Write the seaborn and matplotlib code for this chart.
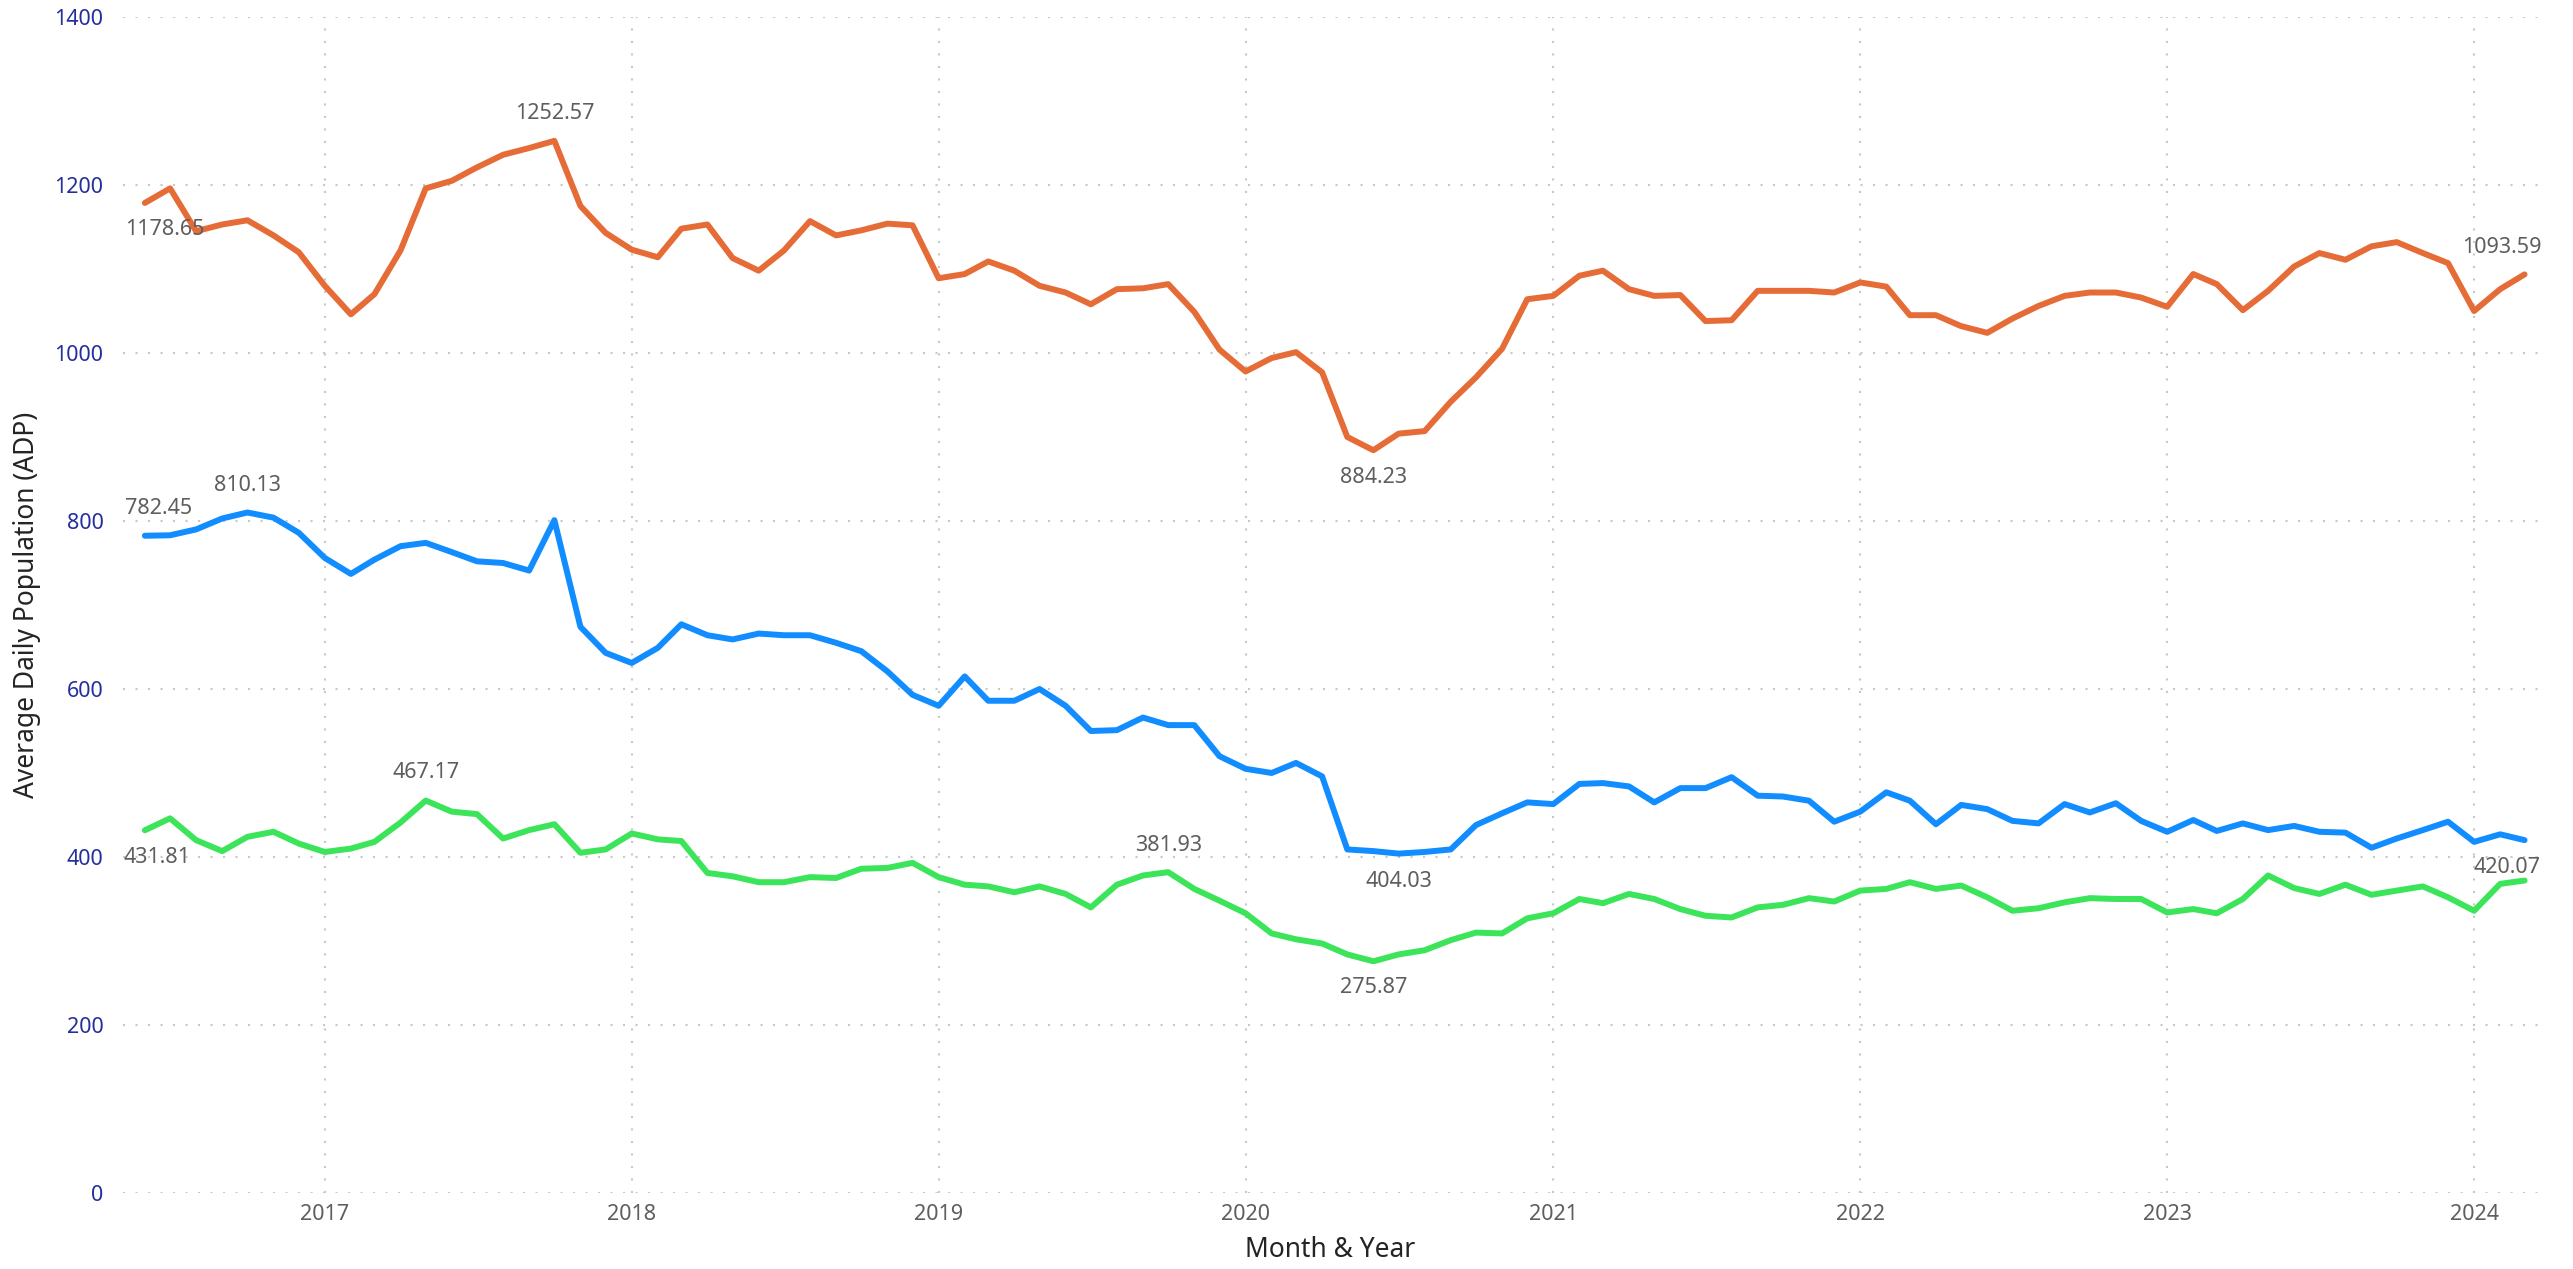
import pandas as pd
import matplotlib
matplotlib.use('Agg')
import matplotlib.pyplot as plt
import seaborn as sns

# monthly average daily population, Jun 2016 - Mar 2024
months = pd.date_range('2016-06-01', '2024-03-01', freq='MS')

orange_adp = [1178.65, 1196, 1145, 1153, 1158, 1140, 1120, 1080, 1046, 1070, 1122, 1196, 1205, 1221, 1236, 1244,
              1252.57, 1175, 1143, 1123, 1114, 1148, 1153, 1113, 1098, 1122, 1157, 1140, 1146, 1154, 1152, 1089,
              1094, 1109, 1098, 1080, 1072, 1058, 1076, 1077, 1082, 1049, 1004, 978, 994, 1001, 977, 900,
              884.23, 904, 907, 942, 971, 1005, 1064, 1068, 1092, 1098, 1076, 1068, 1069, 1038, 1039, 1074,
              1074, 1074, 1072, 1084, 1079, 1045, 1045, 1032, 1024, 1041, 1056, 1068, 1072, 1072, 1066, 1055,
              1094, 1082, 1051, 1074, 1103, 1119, 1111, 1127, 1132, 1119, 1107, 1050, 1076, 1093.59]

blue_adp = [782.45, 783, 790, 803, 810.13, 804, 786, 756, 737, 754, 770, 774, 763, 752, 750, 741,
            801, 674, 643, 631, 649, 677, 664, 659, 666, 664, 664, 655, 645, 621, 593, 580,
            615, 586, 586, 600, 580, 550, 551, 566, 557, 557, 520, 505, 500, 512, 496, 409,
            407, 404.03, 406, 409, 438, 452, 465, 463, 487, 488, 484, 465, 482, 482, 495, 473,
            472, 467, 442, 454, 477, 467, 439, 462, 457, 443, 440, 463, 453, 464, 443, 430,
            444, 431, 440, 432, 437, 430, 429, 411, 422, 432, 442, 418, 427, 420.07]

green_adp = [431.81, 446, 420, 407, 424, 430, 416, 406, 410, 418, 441, 467.17, 454, 451, 422, 432,
             439, 405, 409, 428, 421, 419, 381, 377, 370, 370, 376, 375, 386, 387, 393, 376,
             367, 365, 358, 365, 356, 340, 367, 378, 381.93, 362, 348, 333, 309, 302, 297, 284,
             275.87, 284, 289, 301, 310, 309, 327, 333, 350, 345, 356, 350, 338, 330, 328, 340,
             343, 351, 347, 360, 362, 370, 362, 366, 352, 336, 339, 346, 351, 350, 350, 334,
             338, 333, 350, 378, 363, 356, 367, 355, 360, 365, 352, 336, 368, 372]

series_names = ['Series 1', 'Series 2', 'Series 3']
series_colors = ['#E66C37', '#118DFF', '#3CE45A']

# data labels: series, month, dx, dy (pixels)
label_series = ['Series 1', 'Series 1', 'Series 1', 'Series 1',
                'Series 2', 'Series 2', 'Series 2', 'Series 2',
                'Series 3', 'Series 3', 'Series 3', 'Series 3']
label_months = ['2016-06', '2017-10', '2020-06', '2024-03',
                '2016-06', '2016-10', '2020-07', '2024-03',
                '2016-06', '2017-05', '2019-10', '2020-06']
label_dx = [20, 0, 0, -23, 14, 0, 0, -18, 12, 0, 0, 0]
label_dy = [-27, 27, -27, 27, 27, 27, -28, -27, -27, 28, 27, -26]

year_ticks = [2017, 2018, 2019, 2020, 2021, 2022, 2023, 2024]
y_ticks = [0, 200, 400, 600, 800, 1000, 1200, 1400]

wide = pd.DataFrame({'month': months, 'Series 1': orange_adp,
                     'Series 2': blue_adp, 'Series 3': green_adp})
df = wide.melt(id_vars='month', var_name='series', value_name='adp')

sns.set_theme(style='white')
plt.rcParams['font.family'] = ['Noto Sans', 'DejaVu Sans']

fig = plt.figure(figsize=(25.73, 12.69), dpi=100)
ax = fig.add_axes([0.0478, 0.0599, 0.9386, 0.9267])

sns.lineplot(data=df, x='month', y='adp', hue='series', hue_order=series_names,
             palette=dict(zip(series_names, series_colors)), linewidth=4.3,
             legend=False, ax=ax, solid_joinstyle='round', solid_capstyle='round')

for s, m, dx, dy in zip(label_series, label_months, label_dx, label_dy):
    ts = pd.Timestamp(m + '-01')
    val = wide.loc[wide['month'] == ts, s].iloc[0]
    ax.annotate(f'{val:.2f}', xy=(ts, val), xytext=(dx, dy), textcoords='offset pixels',
                ha='center', va='center', fontsize=15.5, color='#605E5C')

ax.set_ylim(0, 1400)
ax.set_xlim(pd.Timestamp('2016-05-06'), pd.Timestamp('2024-03-17'))
ax.set_yticks(y_ticks)
ax.set_xticks([pd.Timestamp(f'{y}-01-01') for y in year_ticks])
ax.set_xticklabels([str(y) for y in year_ticks])

ax.grid(True, color='#C8C8C8', linestyle=(0, (1, 5)), linewidth=1.5)
for sp in ax.spines.values():
    sp.set_visible(False)

ax.tick_params(axis='x', length=0, pad=8, labelsize=15.5, labelcolor='#605E5C')
ax.tick_params(axis='y', length=0, pad=14, labelsize=15.5, labelcolor='#252F9C')

ax.set_xlabel('Month & Year', fontsize=19, color='#252423', va='center')
ax.set_ylabel('Average Daily Population (ADP)', fontsize=19, color='#252423', va='center')
ax.xaxis.set_label_coords(0.5, -0.0485)
ax.yaxis.set_label_coords(-0.0398, 0.5)

fig.savefig('out.png', dpi=100)
